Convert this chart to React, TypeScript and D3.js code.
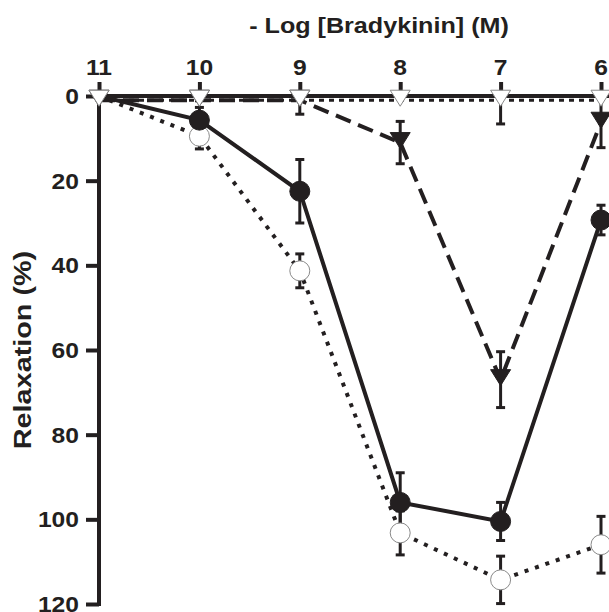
import React, { useRef, useEffect } from "react";
import * as d3 from "d3";

// -log concentration of bradykinin
const conc = [11, 10, 9, 8, 7, 6];

// filled circles, solid line
const filledCircle = [0, 5.7, 22.5, 96, 100.5, 29.3];
const filledCircleErr = [0, 3, 7.5, 7, 4.5, 3.5];

// open circles, dotted line
const openCircle = [0, 9.5, 41.3, 103.2, 114.3, 106];
const openCircleErr = [0, 3, 4, 5.2, 5.6, 6.7];

// filled triangles, dashed line
const filledTri = [1, 1, 1, 11, 67, 6.2];
const filledTriErr = [0, 0, 3.3, 5, 6.6, 6];

// open triangles, short-dotted line
const openTri = [1, 1, 1, 1, 1, 1];
const openTriErr = [0, 0, 0, 0, 5.6, 0];

const yTicks = [0, 20, 40, 60, 80, 100, 120];

const INK = "#231f20";
const FONT = "Liberation Sans, Arial, sans-serif";

export default function App() {
    const svgRef = useRef(null);

    useEffect(() => {
        const svg = d3.select(svgRef.current);
        svg.selectAll("*").remove();

        const x = d3.scaleLinear().domain([11, 6]).range([99, 601]);
        const y = d3.scaleLinear().domain([0, 120]).range([96, 604]);

        svg.append("defs").append("clipPath").attr("id", "below0")
            .append("rect").attr("x", 0).attr("y", y(0)).attr("width", 609).attr("height", 612);

        // stretched bold label, like the printed figure
        const label = (px, py, txt, size, anchor, sx, rot = 0) =>
            svg.append("text")
                .attr("transform", `translate(${px},${py}) rotate(${rot}) scale(${sx},1)`)
                .attr("text-anchor", anchor)
                .attr("font-family", FONT).attr("font-weight", "bold")
                .attr("font-size", size).attr("fill", INK)
                .text(txt);

        // top axis
        const gx = svg.append("g").attr("transform", `translate(0,${y(0)})`)
            .call(d3.axisTop(x).tickValues(conc).tickSize(14).tickSizeOuter(0));
        gx.select(".domain").remove();
        gx.selectAll("text").remove();
        gx.selectAll("line").attr("stroke", INK).attr("stroke-width", 4);
        conc.forEach((c) => label(x(c), 75, String(c), 22, "middle", 1.12));
        svg.append("line").attr("x1", x(11) - 2).attr("x2", 609)
            .attr("y1", y(0)).attr("y2", y(0)).attr("stroke", INK).attr("stroke-width", 4);

        // left axis
        const gy = svg.append("g").attr("transform", `translate(${x(11)},0)`)
            .call(d3.axisLeft(y).tickValues(yTicks).tickSize(13).tickSizeOuter(0));
        gy.select(".domain").remove();
        gy.selectAll("text").remove();
        gy.selectAll("line").attr("stroke", INK).attr("stroke-width", 4);
        yTicks.forEach((t) => label(79, y(t) + 8, String(t), 22, "end", 1.12));
        svg.append("line").attr("x1", x(11)).attr("x2", x(11))
            .attr("y1", y(0) - 2).attr("y2", y(120) + 2).attr("stroke", INK).attr("stroke-width", 4);

        label(379, 33, "- Log [Bradykinin] (M)", 21.5, "middle", 1.17);
        label(31, 350, "Relaxation (%)", 24, "middle", 1.2, -90);

        const series = [
            { vals: openTri, err: openTriErr, dash: "5,5", width: 3, marker: "tri", fill: "#fff", z: 3 },
            { vals: filledTri, err: filledTriErr, dash: "16,8", width: 4, marker: "tri", fill: INK, z: 2 },
            { vals: openCircle, err: openCircleErr, dash: "4,7", width: 4, marker: "circ", fill: "#fff", z: 0 },
            { vals: filledCircle, err: filledCircleErr, dash: null, width: 4, marker: "circ", fill: INK, z: 1 },
        ];

        const line = d3.line().x((d) => x(d[0])).y((d) => y(d[1]));

        series.forEach((s) => {
            svg.append("path").datum(conc.map((c, i) => [c, s.vals[i]]))
                .attr("d", line).attr("fill", "none").attr("stroke", INK)
                .attr("stroke-width", s.width).attr("stroke-dasharray", s.dash);
        });

        // error bars
        const eb = svg.append("g").attr("clip-path", "url(#below0)");
        series.forEach((s) => {
            conc.forEach((c, i) => {
                if (!s.err[i]) return;
                const lo = y(s.vals[i] - s.err[i]), hi = y(s.vals[i] + s.err[i]);
                eb.append("line").attr("x1", x(c)).attr("x2", x(c)).attr("y1", lo).attr("y2", hi)
                    .attr("stroke", INK).attr("stroke-width", 3);
                [lo, hi].forEach((yy) => {
                    eb.append("line").attr("x1", x(c) - 4.5).attr("x2", x(c) + 4.5)
                        .attr("y1", yy).attr("y2", yy).attr("stroke", INK).attr("stroke-width", 3);
                });
            });
        });

        // markers, stacked: open circles, filled circles, filled triangles, open triangles
        series.slice().sort((a, b) => a.z - b.z).forEach((s) => {
            conc.forEach((c, i) => {
                if (s.marker === "circ" && i === 0) return;
                const open = s.fill !== INK;
                if (s.marker === "circ") {
                    svg.append("circle").attr("cx", x(c)).attr("cy", y(s.vals[i])).attr("r", 10)
                        .attr("fill", s.fill).attr("stroke", open ? "#8a8a8a" : INK).attr("stroke-width", 1);
                } else {
                    svg.append("path").attr("transform", `translate(${x(c)},${y(s.vals[i])})`)
                        .attr("d", "M-10,-10L10,-10L0,6Z")
                        .attr("fill", s.fill).attr("stroke", open ? "#8a8a8a" : INK).attr("stroke-width", 1);
                }
            });
        });
    }, []);

    return (
        <React.Fragment>
            <style>{`body{margin:0}`}</style>
            <svg ref={svgRef} width={609} height={612} style={{ display: "block", background: "#fff" }} />
        </React.Fragment>
    );
}
